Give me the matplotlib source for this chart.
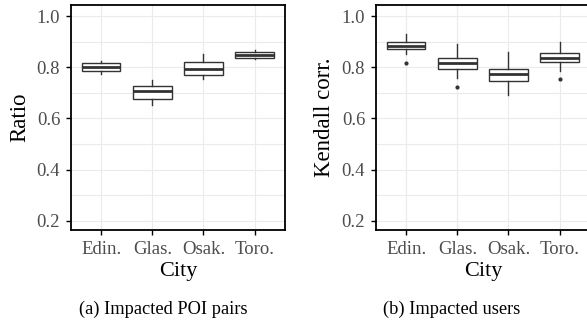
import matplotlib
matplotlib.use("Agg")
import matplotlib.pyplot as plt

plt.rcParams['font.family'] = ['Liberation Serif', 'DejaVu Serif']

cities = ['Edin.', 'Glas.', 'Osak.', 'Toro.']

# box stats: whisker low, q1, median, q3, whisker high
ratio_lo = [0.773, 0.652, 0.753, 0.831]
ratio_q1 = [0.786, 0.676, 0.770, 0.837]
ratio_med = [0.800, 0.706, 0.792, 0.848]
ratio_q3 = [0.815, 0.728, 0.820, 0.861]
ratio_hi = [0.824, 0.750, 0.850, 0.868]
ratio_out = [[], [], [], []]

kendall_lo = [0.850, 0.757, 0.691, 0.785]
kendall_q1 = [0.870, 0.794, 0.746, 0.819]
kendall_med = [0.884, 0.815, 0.773, 0.837]
kendall_q3 = [0.897, 0.837, 0.793, 0.855]
kendall_hi = [0.931, 0.889, 0.858, 0.898]
kendall_out = [[0.818], [0.724], [], [0.755]]


def make_stats(lo, q1, med, q3, hi, out):
    stats = []
    for i in range(len(lo)):
        stats.append(dict(whislo=lo[i], q1=q1[i], med=med[i], q3=q3[i],
                          whishi=hi[i], fliers=out[i]))
    return stats


def draw(ax, stats, ylabel):
    ax.bxp(stats, positions=range(1, 5), widths=0.75, patch_artist=True,
           showcaps=False,
           boxprops=dict(facecolor='white', edgecolor='#333333', linewidth=1.0),
           whiskerprops=dict(color='#333333', linewidth=1.0),
           medianprops=dict(color='#333333', linewidth=2.0),
           flierprops=dict(marker='o', markersize=2, markerfacecolor='#333333',
                           markeredgecolor='#333333'))
    ax.set_xlim(0.4, 4.6)
    ax.set_ylim(0.164, 1.043)
    ax.set_yticks([0.2, 0.4, 0.6, 0.8, 1.0])
    ax.set_yticks([0.3, 0.5, 0.7, 0.9], minor=True)
    ax.set_xticks(range(1, 5))
    ax.set_xticklabels(cities)
    ax.grid(True, which='both', color='#ebebeb', linewidth=0.8)
    ax.set_axisbelow(True)
    ax.tick_params(axis='both', which='major', direction='out', length=3.6,
                   width=1, color='black', labelcolor='#4d4d4d', labelsize=13.5,
                   pad=4)
    ax.tick_params(axis='both', which='minor', length=0)
    ax.set_xlabel('City', fontsize=16, labelpad=3)
    ax.set_ylabel(ylabel, fontsize=16.5, labelpad=4.5)
    for s in ax.spines.values():
        s.set_linewidth(1.3)
        s.set_color('black')


fig = plt.figure(figsize=(5.87, 3.2), dpi=100)
W, H = 587, 320
ax1 = fig.add_axes([70.7 / W, 1 - 230 / H, 214.5 / W, 225 / H])
ax2 = fig.add_axes([375.7 / W, 1 - 230 / H, 214.5 / W, 225 / H])

draw(ax1, make_stats(ratio_lo, ratio_q1, ratio_med, ratio_q3, ratio_hi, ratio_out), 'Ratio')
draw(ax2, make_stats(kendall_lo, kendall_q1, kendall_med, kendall_q3, kendall_hi, kendall_out), 'Kendall corr.')

fig.text(163 / W, 1 - 309 / H, '(a) Impacted POI pairs', ha='center', va='center', fontsize=13.2)
fig.text(452 / W, 1 - 309 / H, '(b) Impacted users', ha='center', va='center', fontsize=13.2)

fig.savefig('out.png', dpi=100)
